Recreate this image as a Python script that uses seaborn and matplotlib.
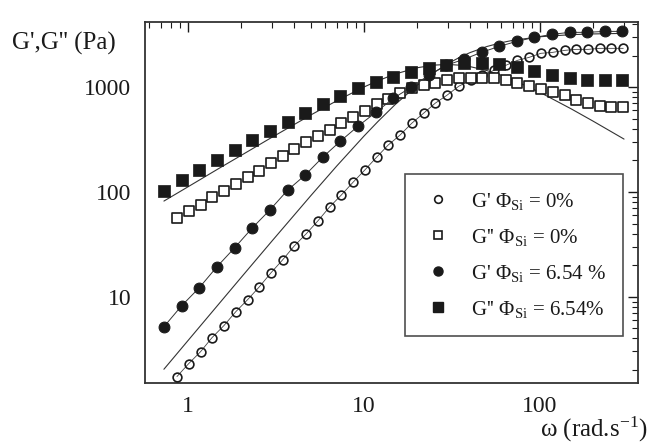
import numpy as np
import pandas as pd
import matplotlib
matplotlib.use("Agg")
import matplotlib.pyplot as plt
import seaborn as sns
from matplotlib.lines import Line2D
from matplotlib.ticker import FixedLocator, FixedFormatter, LogLocator, NullFormatter

# ---------------- data ----------------
# Phi_Si = 0 %
w_0 = [0.866, 1.01, 1.18, 1.37, 1.60, 1.87, 2.18, 2.54, 2.96, 3.45, 4.02, 4.69, 5.47,
       6.38, 7.43, 8.67, 10.1, 11.8, 13.7, 16.0, 18.7, 21.8, 25.4, 29.6, 34.5, 40.3,
       47.0, 54.7, 63.9, 74.4, 86.8, 101, 118, 138, 160, 187, 218, 254, 297]
Gp_0 = [1.73, 2.30, 2.99, 4.07, 5.30, 7.20, 9.36, 12.4, 16.9, 22.5, 30.6, 39.8, 53.0,
        72.0, 93.5, 124, 162, 215, 280, 349, 454, 565, 705, 839, 1022, 1166,
        1301, 1452, 1620, 1807, 1931, 2109, 2154, 2250, 2300, 2300, 2352, 2352, 2352]
Gpp_0 = [56.5, 65.9, 75.2, 89.6, 102, 119, 139, 158, 189, 220, 257, 299, 341,
         389, 454, 518, 590, 689, 769, 877, 978, 1045, 1092, 1166, 1218, 1218,
         1218, 1218, 1166, 1092, 1022, 957, 896, 839, 752, 705, 659, 645, 645]

# Phi_Si = 6.54 %
w_1 = [0.731, 0.921, 1.16, 1.46, 1.84, 2.32, 2.92, 3.68, 4.63, 5.83, 7.35, 9.25, 11.7,
       14.7, 18.5, 23.3, 29.3, 36.9, 46.5, 58.6, 73.8, 92.9, 117, 147, 185, 233, 294]
Gp_1 = [5.18, 8.21, 12.2, 19.3, 29.3, 45.4, 67.4, 104, 145, 215, 306, 425, 578,
        786, 1000, 1301, 1620, 1849, 2154, 2457, 2742, 2993, 3199, 3344, 3344, 3415, 3415]
Gpp_1 = [102, 130, 162, 202, 251, 313, 381, 464, 565, 689, 820, 978, 1116,
         1245, 1389, 1517, 1620, 1694, 1694, 1656, 1550, 1419, 1301, 1218, 1166, 1166, 1166]

# model curves (thin solid lines)
w_fit = [0.73, 1, 1.5, 2, 3, 5, 7, 10, 12, 15, 20, 25, 30, 35, 40, 50, 60, 70, 100, 150, 200, 300]
Gp_fit = [2.03, 3.81, 8.56, 15.2, 34.0, 92.7, 177, 342, 471, 681, 1043, 1384, 1683, 1934,
          2142, 2452, 2661, 2805, 3037, 3178, 3230, 3269]
Gpp_fit = [81.9, 112, 168, 223, 333, 545, 743, 1006, 1154, 1336, 1535, 1628, 1650, 1625,
           1575, 1442, 1304, 1179, 893, 623, 475, 320]

x_ticks = [1, 10, 100]
x_ticklabels = ["1", "10", "100"]
y_ticks = [10, 100, 1000]
y_ticklabels = ["10", "100", "1000"]

labels = ["G' \u03a6$_{\\rm Si}$ = 0%",
          "G'' \u03a6$_{\\rm Si}$ = 0%",
          "G' \u03a6$_{\\rm Si}$ = 6.54 %",
          "G'' \u03a6$_{\\rm Si}$ = 6.54%"]

# ---------------- style ----------------
sns.set_style("white")
plt.rcParams["font.family"] = ["Liberation Serif", "DejaVu Serif"]
plt.rcParams["mathtext.fontset"] = "custom"
plt.rcParams["mathtext.rm"] = "Liberation Serif"
plt.rcParams["mathtext.it"] = "Liberation Serif:italic"
plt.rcParams["mathtext.bf"] = "Liberation Serif:bold"

ink = "#1a1a1a"

fig = plt.figure(figsize=(6.54, 4.45), dpi=100)
ax = fig.add_axes([0.2217, 0.1393, 0.7538, 0.8113])

df0 = pd.DataFrame({"w": w_0, "Gp": Gp_0, "Gpp": Gpp_0})
df1 = pd.DataFrame({"w": w_1, "Gp": Gp_1, "Gpp": Gpp_1})
dfit = pd.DataFrame({"w": w_fit, "Gp": Gp_fit, "Gpp": Gpp_fit})

# model lines
sns.lineplot(data=dfit, x="w", y="Gp", ax=ax, color="#333333", lw=0.8, zorder=2)
sns.lineplot(data=dfit, x="w", y="Gpp", ax=ax, color="#333333", lw=0.8, zorder=2)

# 0 % data
sns.lineplot(data=df0, x="w", y="Gp", ax=ax, color="#444444", lw=0.6,
             marker="o", markersize=6.3, markerfacecolor="none",
             markeredgecolor=ink, markeredgewidth=1.2, zorder=3)
sns.scatterplot(data=df0, x="w", y="Gpp", ax=ax, marker="s", s=50,
                facecolor="white", edgecolor=ink, linewidth=1.2, zorder=3)

# 6.54 % data
sns.lineplot(data=df1, x="w", y="Gp", ax=ax, color="#333333", lw=0.7,
             marker="o", markersize=7.8, markerfacecolor=ink,
             markeredgecolor=ink, zorder=4)
sns.scatterplot(data=df1, x="w", y="Gpp", ax=ax, marker="s", s=64,
                color=ink, edgecolor=ink, linewidth=0.5, zorder=4)

ax.set_xscale("log")
ax.set_yscale("log")
ax.set_xlim(0.57, 360)
ax.set_ylim(1.50, 4200)

ax.xaxis.set_major_locator(FixedLocator(x_ticks))
ax.xaxis.set_major_formatter(FixedFormatter(x_ticklabels))
ax.yaxis.set_major_locator(FixedLocator(y_ticks))
ax.yaxis.set_major_formatter(FixedFormatter(y_ticklabels))
ax.xaxis.set_minor_locator(LogLocator(base=10, subs=np.arange(2, 10), numticks=20))
ax.yaxis.set_minor_locator(LogLocator(base=10, subs=np.arange(2, 10), numticks=20))
ax.xaxis.set_minor_formatter(NullFormatter())
ax.yaxis.set_minor_formatter(NullFormatter())

ax.tick_params(which="both", direction="in", top=True, right=True, colors=ink,
               labelsize=17)
ax.tick_params(which="major", length=7, width=1.0)
ax.tick_params(which="minor", length=4, width=0.8)
ax.tick_params(axis="y", pad=10)
ax.tick_params(axis="x", pad=9)

for sp in ax.spines.values():
    sp.set_linewidth(1.3)
    sp.set_color("#333333")

ax.set_xlabel("")
ax.set_ylabel("")

fig.text(0.018, 0.903, "G',G'' (Pa)", fontsize=18, va="center", ha="left", color=ink)
fig.text(0.99, 0.018, "\u03c9 (rad.s$^{-1}$)", fontsize=18, ha="right", va="baseline", color=ink)

handles = [
    Line2D([], [], ls="", marker="o", ms=5.5, mfc="none", mec=ink, mew=1.2),
    Line2D([], [], ls="", marker="s", ms=6, mfc="none", mec=ink, mew=1.2),
    Line2D([], [], ls="", marker="o", ms=6.5, mfc=ink, mec=ink),
    Line2D([], [], ls="", marker="s", ms=6.5, mfc=ink, mec=ink),
]
leg = ax.legend(handles, labels, loc="upper left", bbox_to_anchor=(0.527, 0.579),
                frameon=True, fancybox=False, fontsize=15, handlelength=1.6,
                handletextpad=0.8, labelspacing=0.72, borderpad=0.8,
                borderaxespad=0.0)
leg.get_frame().set_edgecolor("#222222")
leg.get_frame().set_linewidth(1.2)
for t in leg.get_texts():
    t.set_color(ink)

fig.savefig("out.png", dpi=100, facecolor="white")
